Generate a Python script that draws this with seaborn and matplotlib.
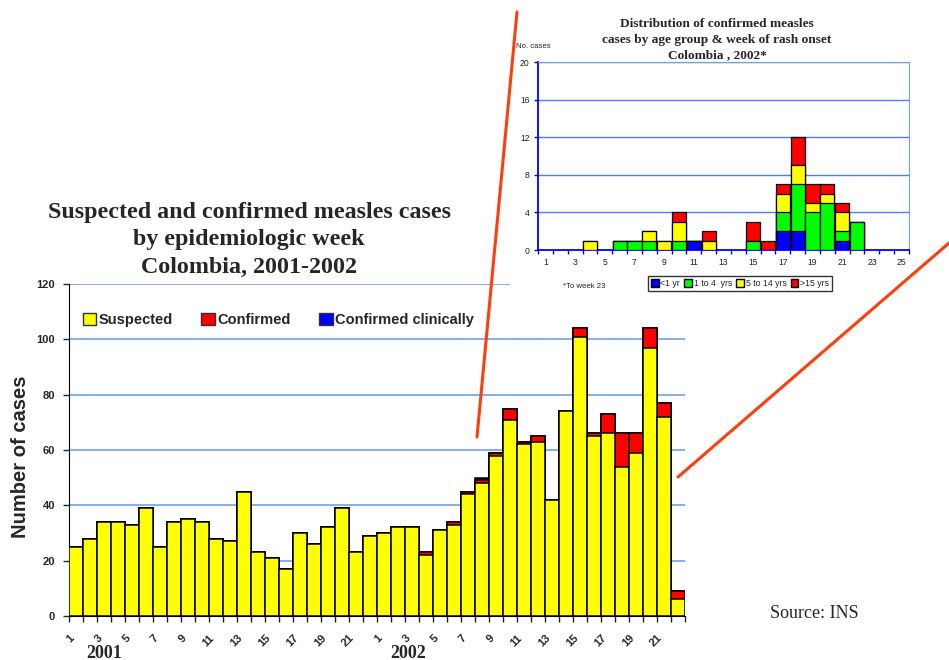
import numpy as np
import pandas as pd
import matplotlib.pyplot as plt
from matplotlib.patches import Patch, Rectangle
from matplotlib.lines import Line2D
import seaborn as sns

# --- main chart data: epidemiologic weeks 2001 (1-22) and 2002 (1-22)
weeks_2001 = list(range(1, 23))
weeks_2002 = list(range(1, 23))
suspected = [25, 28, 34, 34, 33, 39, 25, 34, 35, 34, 28, 27, 45, 23, 21, 17, 30, 26, 32, 39, 23, 29,
             30, 32, 32, 22, 31, 33, 44, 48, 58, 71, 62, 63, 42, 74, 101, 65, 66, 54, 59, 97, 72, 6]
confirmed = [0] * 22 + [0, 0, 0, 1, 0, 1, 1, 1, 1, 4, 1, 2, 0, 0, 3, 1, 7, 12, 7, 7, 5, 3]
confirmed_clin = [0] * 22 + [0, 0, 0, 0, 0, 0, 0, 1, 0, 0, 0, 0, 0, 0, 0, 0, 0, 0, 0, 0, 0, 0]

# --- inset data: confirmed cases 2002 by age group, weeks 1-25
inset_weeks = list(range(1, 26))
age_lt1 = [0, 0, 0, 0, 0, 0, 0, 0, 0, 0, 1, 0, 0, 0, 0, 0, 2, 2, 0, 0, 1, 0, 0, 0, 0]
age_1_4 = [0, 0, 0, 0, 0, 1, 1, 1, 0, 1, 0, 0, 0, 0, 1, 0, 2, 5, 4, 5, 1, 3, 0, 0, 0]
age_5_14 = [0, 0, 0, 1, 0, 0, 0, 1, 1, 2, 0, 1, 0, 0, 0, 0, 2, 2, 1, 1, 2, 0, 0, 0, 0]
age_gt15 = [0, 0, 0, 0, 0, 0, 0, 0, 0, 1, 0, 1, 0, 0, 2, 1, 1, 3, 2, 1, 1, 0, 0, 0, 0]

YELLOW, RED, BLUE, GREEN = '#ffff00', '#ff0000', '#0000ff', '#00ff00'

sns.set_style('white')
plt.rcParams['font.family'] = ['Liberation Sans', 'DejaVu Sans']

fig = plt.figure(figsize=(9.49, 6.6), dpi=100)
W, H = 949, 660

# ---------------- main chart ----------------
ax = fig.add_axes([69 / W, 44 / H, 616 / W, 332 / H])
ax.set_zorder(0)

df = pd.DataFrame({
    'pos': range(len(suspected)),
    'susp': suspected,
    'conf': confirmed,
    'clin': confirmed_clin,
})
df['c_red'] = df['susp'] + df['conf']
df['c_blue'] = df['c_red'] + df['clin']

for col, color in [('c_blue', BLUE), ('c_red', RED), ('susp', YELLOW)]:
    sns.barplot(data=df, x='pos', y=col, color=color, saturation=1, width=1.0,
                edgecolor='black', linewidth=1.1, ax=ax, zorder=3)

ax.set_ylim(0, 120)
ax.set_xlim(-0.5, len(suspected) - 0.5)
ax.set_yticks(range(0, 121, 20))
ax.set_yticklabels([str(v) for v in range(0, 121, 20)], fontsize=8, fontweight='bold')
ax.grid(False)
for v in range(20, 121, 20):
    ax.axhline(v, color='#6f9fef', lw=1.2, zorder=1)

week_labels = weeks_2001 + weeks_2002
ax.set_xticks(np.arange(len(week_labels) + 1) - 0.5)
ax.set_xticklabels([str(w) if w % 2 == 1 else '' for w in week_labels] + [''],
                   rotation=45, ha='right', rotation_mode='anchor',
                   fontsize=8, fontweight='bold')
ax.tick_params(axis='x', length=4, width=1, pad=8, direction='out', bottom=True)
ax.tick_params(axis='y', length=4, width=1, pad=6, direction='out', left=True)
for s in ['top', 'right']:
    ax.spines[s].set_visible(False)
ax.spines['left'].set_color('black')
ax.spines['bottom'].set_color('black')
ax.set_xlabel('')
ax.set_ylabel('Number of cases', fontsize=14.5, fontweight='bold')
ax.yaxis.set_label_coords(-0.064, 0.48)

handles = [Patch(facecolor=YELLOW, edgecolor='#333333', label='Suspected'),
           Patch(facecolor=RED, edgecolor='#333333', label='Confirmed'),
           Patch(facecolor=BLUE, edgecolor='#333333', label='Confirmed clinically')]
leg = ax.legend(handles=handles, loc='center left', bbox_to_anchor=(0.022, 0.8916),
                ncol=3, frameon=False, borderpad=0, borderaxespad=0,
                handlelength=0.95, handleheight=0.95, handletextpad=0.15,
                columnspacing=1.95, prop={'size': 10.5, 'weight': 'bold'})

fig.text(249 / W, 1 - 240 / H,
         'Suspected and confirmed measles cases\nby epidemiologic week\nColombia, 2001-2002',
         ha='center', va='center', family='Liberation Serif', fontweight='bold',
         fontsize=17.3, linespacing=1.42)
fig.text(104 / W, 1 - 653 / H, '2001', ha='center', va='center',
         family='Liberation Serif', fontweight='bold', fontsize=13)
fig.text(408 / W, 1 - 653 / H, '2002', ha='center', va='center',
         family='Liberation Serif', fontweight='bold', fontsize=13)
fig.text(814 / W, 1 - 614 / H, 'Source: INS', ha='center', va='center',
         family='Liberation Serif', fontsize=13)

# white backdrop of the inset picture
fig.add_artist(Rectangle((510 / W, 1 - 292 / H), 439 / W, 292 / H,
                         transform=fig.transFigure, facecolor='white',
                         edgecolor='none', zorder=1))

# ---------------- inset chart ----------------
ix = fig.add_axes([538 / W, 1 - 250 / H, 371 / W, 188 / H])
ix.set_zorder(2)

idf = pd.DataFrame({'week': inset_weeks, 'lt1': age_lt1, 'a14': age_1_4,
                    'a514': age_5_14, 'gt15': age_gt15})
idf['c_green'] = idf['lt1'] + idf['a14']
idf['c_yellow'] = idf['c_green'] + idf['a514']
idf['c_red'] = idf['c_yellow'] + idf['gt15']
idf = idf.replace(0, np.nan)

for col, color in [('c_red', RED), ('c_yellow', YELLOW), ('c_green', GREEN), ('lt1', BLUE)]:
    sub = idf.dropna(subset=[col])
    sns.barplot(data=sub, x='week', y=col, order=inset_weeks, color=color,
                saturation=1, width=0.95, edgecolor='black', linewidth=0.9,
                ax=ix, zorder=3)

ix.set_ylim(0, 20)
ix.set_xlim(-0.5, len(inset_weeks) - 0.5)
ix.grid(False)
for v in range(4, 21, 4):
    ix.axhline(v, color='#4d7cf5', lw=1.0, zorder=1)
ix.set_yticks(range(0, 21, 4))
ix.set_yticklabels([str(v) for v in range(0, 21, 4)], fontsize=6.2, color='#222222')
ix.set_xticks(range(len(inset_weeks)))
ix.set_xticklabels([str(w) if w % 2 == 1 else '' for w in inset_weeks],
                   fontsize=6.2, color='#222222')
ix.set_xticks(np.arange(len(inset_weeks) + 1) - 0.5, minor=True)
ix.tick_params(axis='x', which='major', length=0, pad=6)
ix.tick_params(axis='x', which='minor', length=3, width=1, color=BLUE, direction='out', bottom=True)
ix.tick_params(axis='y', length=3, width=1, color=BLUE, direction='out', left=True, pad=3)
ix.spines['left'].set_color(BLUE)
ix.spines['bottom'].set_color(BLUE)
ix.spines['left'].set_linewidth(1.3)
ix.spines['bottom'].set_linewidth(1.3)
ix.spines['right'].set_color('#6f9fef')
ix.spines['top'].set_color('#6f9fef')
ix.set_xlabel('')
ix.set_ylabel('')

fig.text(516 / W, 1 - 47 / H, 'No. cases', ha='left', va='center', fontsize=5.6, zorder=4)
fig.text(717 / W, 1 - 39.5 / H,
         'Distribution of confirmed measles\ncases by age group & week of rash onset\nColombia , 2002*',
         ha='center', va='center', family='Liberation Serif', fontweight='bold',
         fontsize=9.6, linespacing=1.38, zorder=4)
fig.text(584 / W, 1 - 286 / H, '*To week 23', ha='center', va='center', fontsize=5.6, zorder=4)

ihandles = [Patch(facecolor=BLUE, edgecolor='black', label='<1 yr'),
            Patch(facecolor=GREEN, edgecolor='black', label='1 to 4  yrs'),
            Patch(facecolor=YELLOW, edgecolor='black', label='5 to 14 yrs'),
            Patch(facecolor=RED, edgecolor='black', label='>15 yrs')]
ileg = fig.legend(handles=ihandles, loc='center', bbox_to_anchor=(740 / W, 1 - 283.5 / H),
                  ncol=4, frameon=True, fancybox=False, edgecolor='black',
                  borderpad=0.35, handlelength=0.9, handleheight=0.9,
                  handletextpad=0.2, columnspacing=0.45, prop={'size': 6.3})
ileg.get_frame().set_linewidth(1.0)
ileg.set_zorder(4)

# orange callout lines
fig.add_artist(Line2D([517 / W, 477 / W], [1 - 12 / H, 1 - 437 / H],
                      transform=fig.transFigure, color='#ff3d0d', lw=2.2, zorder=5))
fig.add_artist(Line2D([949 / W, 678 / W], [1 - 243 / H, 1 - 477 / H],
                      transform=fig.transFigure, color='#ff3d0d', lw=2.2, zorder=5))

fig.savefig('out.png', dpi=100)
